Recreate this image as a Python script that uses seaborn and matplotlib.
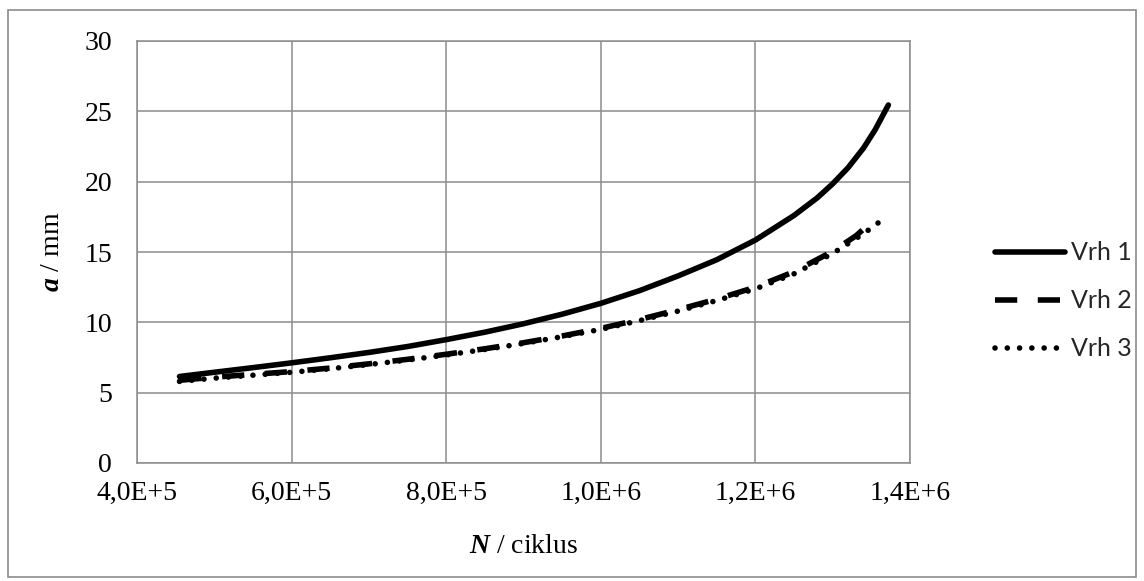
import numpy as np
import pandas as pd
import matplotlib.pyplot as plt
import seaborn as sns
from matplotlib.patches import Rectangle
from matplotlib.ticker import FuncFormatter

# values
n_vrh1 = [4.55e5, 5.0e5, 5.5e5, 6.0e5, 6.5e5, 7.0e5, 7.5e5, 8.0e5, 8.5e5, 9.0e5,
          9.5e5, 1.0e6, 1.05e6, 1.1e6, 1.15e6, 1.2e6, 1.25e6, 1.28e6, 1.3e6,
          1.32e6, 1.34e6, 1.355e6, 1.372e6]
a_vrh1 = [6.15, 6.45, 6.78, 7.12, 7.48, 7.86, 8.28, 8.77, 9.3, 9.9,
          10.58, 11.35, 12.25, 13.3, 14.45, 15.85, 17.6, 18.85, 19.85,
          21.0, 22.4, 23.7, 25.45]

n_vrh2 = [4.55e5, 5.0e5, 5.5e5, 6.0e5, 6.5e5, 7.0e5, 7.5e5, 8.0e5, 8.5e5, 9.0e5,
          9.5e5, 1.0e6, 1.05e6, 1.1e6, 1.15e6, 1.2e6, 1.25e6, 1.3e6, 1.33e6, 1.358e6]
a_vrh2 = [5.88, 6.1, 6.3, 6.5, 6.75, 7.05, 7.37, 7.73, 8.12, 8.55,
          9.03, 9.57, 10.2, 10.9, 11.65, 12.5, 13.6, 15.05, 16.15, 17.5]

n_vrh3 = [4.55e5, 5.0e5, 5.5e5, 6.0e5, 6.5e5, 7.0e5, 7.5e5, 8.0e5, 8.5e5, 9.0e5,
          9.5e5, 1.0e6, 1.05e6, 1.1e6, 1.15e6, 1.2e6, 1.25e6, 1.3e6, 1.33e6, 1.35e6, 1.369e6]
a_vrh3 = [5.8, 6.03, 6.24, 6.45, 6.7, 7.0, 7.32, 7.68, 8.07, 8.5,
          8.98, 9.5, 10.12, 10.8, 11.55, 12.38, 13.45, 14.9, 15.95, 16.7, 17.5]

x_ticks = [4e5, 6e5, 8e5, 1e6, 1.2e6, 1.4e6]
y_ticks = [0, 5, 10, 15, 20, 25, 30]

df = pd.concat([
    pd.DataFrame({"N": n_vrh1, "a": a_vrh1, "serija": "Vrh 1"}),
    pd.DataFrame({"N": n_vrh2, "a": a_vrh2, "serija": "Vrh 2"}),
    pd.DataFrame({"N": n_vrh3, "a": a_vrh3, "serija": "Vrh 3"}),
])

sns.set_theme(style="white")
plt.rcParams["font.family"] = ["Liberation Serif", "DejaVu Serif"]
plt.rcParams["mathtext.fontset"] = "custom"
plt.rcParams["mathtext.rm"] = "Liberation Serif"
plt.rcParams["mathtext.bf"] = "Liberation Serif:bold:italic"

W, H = 1144, 581
fig = plt.figure(figsize=(W / 100, H / 100), dpi=100)
fig.patch.set_facecolor("white")
fig.add_artist(Rectangle((8 / W, 4 / H), (1136 - 8) / W, (571 - 4) / H,
                         transform=fig.transFigure, fill=False,
                         edgecolor="#8c8c8c", linewidth=1.2))

ax = fig.add_axes([137 / W, 1 - 463 / H, (910 - 137) / W, (463 - 41) / H])

styles = {
    "Vrh 1": dict(linestyle="-", solid_capstyle="round"),
    "Vrh 2": dict(linestyle=(0, (4.0, 3.7)), dash_capstyle="butt"),
    "Vrh 3": dict(linestyle=(0, (0.01, 2.2)), dash_capstyle="round"),
}
for name, kw in styles.items():
    sns.lineplot(data=df[df["serija"] == name], x="N", y="a", ax=ax,
                 color="black", linewidth=4.0, sort=False, estimator=None,
                 label=name, **kw)

ax.set_xlim(4e5, 1.4e6)
ax.set_ylim(0, 30)
ax.set_xticks(x_ticks)
ax.set_yticks(y_ticks)


def sci_fmt(v, pos):
    e = int(np.floor(np.log10(v)))
    return f"{v / 10 ** e:.1f}".replace(".", ",") + f"E+{e}"


ax.xaxis.set_major_formatter(FuncFormatter(sci_fmt))
ax.tick_params(axis="both", length=0, labelsize=20, colors="black")
ax.tick_params(axis="y", pad=18)
ax.tick_params(axis="x", pad=13)

ax.grid(True, color="#8c8c8c", linewidth=1.1)
for s in ax.spines.values():
    s.set_color("#8c8c8c")
    s.set_linewidth(1.1)

ax.set_xlabel(r"$\mathbf{N}$ / ciklus", fontsize=20, labelpad=20, color="black")
ax.set_ylabel(r"$\mathbf{a}$ / mm", fontsize=20, labelpad=14, color="black")

ax.legend(loc="center left", bbox_to_anchor=(995 / W, 1 - 301 / H),
          bbox_transform=fig.transFigure, frameon=False,
          prop={"family": "Lato", "size": 18}, handlelength=2.8,
          handletextpad=0.25, labelspacing=1.0, borderpad=0, borderaxespad=0)

fig.savefig("out.png", dpi=100)
